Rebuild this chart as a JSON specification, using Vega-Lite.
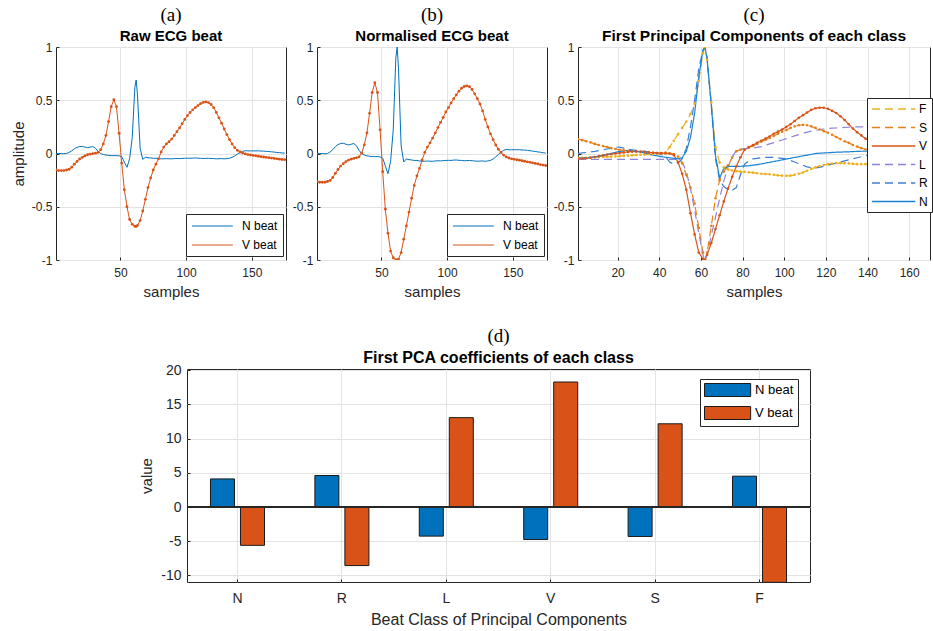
{
  "$schema": "https://vega.github.io/schema/vega-lite/v6.json",
  "background": "white",
  "padding": {"left": 10, "top": 5, "right": 2, "bottom": 3},
  "config": {
    "font": "Liberation Sans",
    "view": {"stroke": "#262626", "strokeWidth": 1},
    "axis": {"grid": true, "gridColor": "#e3e3e3", "domain": false, "ticks": true, "tickSize": -3, "tickColor": "#262626", "labelColor": "#262626", "titleColor": "#262626", "labelFont": "Liberation Sans", "titleFont": "Liberation Sans", "titleFontWeight": "normal", "labelFontSize": 12, "titleFontSize": 15},
    "axisY": {"labelExpr": "datum.value < 0 ? '-' + format(-datum.value, '~g') : format(datum.value, '~g')"},
    "legend": {"labelFont": "Liberation Sans", "labelColor": "#000000", "strokeColor": "#262626", "fillColor": "#ffffff", "cornerRadius": 0, "labelFontSize": 12},
    "title": {"font": "Liberation Serif", "fontSize": 19, "fontWeight": "normal", "color": "#000000", "subtitleFont": "Liberation Sans", "subtitleFontSize": 15, "subtitleFontWeight": "bold", "subtitleColor": "#000000", "subtitlePadding": 4, "offset": -3, "anchor": "middle"}
  },
  "datasets": {
    "a": [
      {"s":1,"N":0,"V":-0.155},{"s":3,"N":0,"V":-0.16},{"s":5,"N":0,"V":-0.16},{"s":7,"N":-0.002,"V":-0.16},{"s":9,"N":0,"V":-0.155},
      {"s":11,"N":0.01,"V":-0.148},{"s":13,"N":0.025,"V":-0.128},{"s":15,"N":0.045,"V":-0.1},{"s":17,"N":0.058,"V":-0.075},{"s":19,"N":0.065,"V":-0.052},
      {"s":21,"N":0.066,"V":-0.036},{"s":23,"N":0.06,"V":-0.022},{"s":25,"N":0.055,"V":-0.012},{"s":27,"N":0.06,"V":-0.006},{"s":29,"N":0.065,"V":-0.001},
      {"s":31,"N":0.05,"V":0.003},{"s":33,"N":0.02,"V":0.01},{"s":35,"N":0,"V":0.035},{"s":37,"N":-0.01,"V":0.09},{"s":39,"N":-0.015,"V":0.17},
      {"s":41,"N":-0.018,"V":0.3},{"s":43,"N":-0.02,"V":0.44},{"s":45,"N":-0.02,"V":0.505},{"s":47,"N":-0.02,"V":0.44},{"s":49,"N":-0.022,"V":0.19},
      {"s":51,"N":-0.03,"V":-0.09},{"s":53,"N":-0.08,"V":-0.34},{"s":55,"N":-0.13,"V":-0.5},{"s":57,"N":-0.05,"V":-0.62},{"s":59,"N":0.15,"V":-0.665},
      {"s":61,"N":0.62,"V":-0.683},{"s":62,"N":0.69,"V":-0.685},{"s":63,"N":0.55,"V":-0.675},{"s":65,"N":0.05,"V":-0.63},{"s":67,"N":-0.055,"V":-0.54},
      {"s":69,"N":-0.035,"V":-0.43},{"s":71,"N":-0.04,"V":-0.32},{"s":73,"N":-0.042,"V":-0.23},{"s":75,"N":-0.045,"V":-0.155},{"s":77,"N":-0.045,"V":-0.1},
      {"s":79,"N":-0.048,"V":-0.05},{"s":81,"N":-0.05,"V":0.015},{"s":83,"N":-0.05,"V":0.06},{"s":85,"N":-0.048,"V":0.09},{"s":87,"N":-0.05,"V":0.11},
      {"s":89,"N":-0.05,"V":0.135},{"s":91,"N":-0.048,"V":0.17},{"s":93,"N":-0.047,"V":0.205},{"s":95,"N":-0.048,"V":0.24},{"s":97,"N":-0.046,"V":0.28},
      {"s":99,"N":-0.045,"V":0.32},{"s":101,"N":-0.044,"V":0.355},{"s":103,"N":-0.045,"V":0.385},{"s":105,"N":-0.043,"V":0.41},{"s":107,"N":-0.042,"V":0.43},
      {"s":109,"N":-0.044,"V":0.45},{"s":111,"N":-0.045,"V":0.468},{"s":113,"N":-0.047,"V":0.48},{"s":115,"N":-0.046,"V":0.484},{"s":117,"N":-0.045,"V":0.478},
      {"s":119,"N":-0.047,"V":0.46},{"s":121,"N":-0.048,"V":0.43},{"s":123,"N":-0.05,"V":0.385},{"s":125,"N":-0.049,"V":0.335},{"s":127,"N":-0.048,"V":0.285},
      {"s":129,"N":-0.05,"V":0.23},{"s":131,"N":-0.048,"V":0.178},{"s":133,"N":-0.045,"V":0.13},{"s":135,"N":-0.036,"V":0.09},{"s":137,"N":-0.022,"V":0.055},
      {"s":139,"N":-0.006,"V":0.03},{"s":141,"N":0.01,"V":0.014},{"s":143,"N":0.02,"V":0.004},{"s":145,"N":0.026,"V":-0.004},{"s":147,"N":0.025,"V":-0.01},
      {"s":149,"N":0.024,"V":-0.014},{"s":151,"N":0.025,"V":-0.018},{"s":153,"N":0.024,"V":-0.022},{"s":155,"N":0.025,"V":-0.026},{"s":157,"N":0.023,"V":-0.03},
      {"s":159,"N":0.022,"V":-0.033},{"s":161,"N":0.02,"V":-0.037},{"s":163,"N":0.018,"V":-0.04},{"s":165,"N":0.016,"V":-0.043},{"s":167,"N":0.013,"V":-0.046},
      {"s":169,"N":0.01,"V":-0.05},{"s":171,"N":0.008,"V":-0.053},{"s":173,"N":0.005,"V":-0.056},{"s":175,"N":0.003,"V":-0.058}
    ],
    "b": [
      {"s":1,"N":0,"V":-0.263},{"s":3,"N":0,"V":-0.27},{"s":5,"N":0,"V":-0.27},{"s":7,"N":-0.003,"V":-0.27},{"s":9,"N":0,"V":-0.263},
      {"s":11,"N":0.015,"V":-0.253},{"s":13,"N":0.036,"V":-0.225},{"s":15,"N":0.065,"V":-0.186},{"s":17,"N":0.084,"V":-0.15},{"s":19,"N":0.094,"V":-0.118},
      {"s":21,"N":0.096,"V":-0.096},{"s":23,"N":0.087,"V":-0.076},{"s":25,"N":0.08,"V":-0.062},{"s":27,"N":0.087,"V":-0.053},{"s":29,"N":0.094,"V":-0.046},
      {"s":31,"N":0.073,"V":-0.041},{"s":33,"N":0.029,"V":-0.031},{"s":35,"N":0,"V":0.004},{"s":37,"N":-0.015,"V":0.081},{"s":39,"N":-0.022,"V":0.194},
      {"s":41,"N":-0.026,"V":0.377},{"s":43,"N":-0.029,"V":0.573},{"s":45,"N":-0.029,"V":0.665},{"s":47,"N":-0.029,"V":0.573},{"s":49,"N":-0.032,"V":0.222},
      {"s":51,"N":-0.044,"V":-0.171},{"s":53,"N":-0.116,"V":-0.523},{"s":55,"N":-0.19,"V":-0.748},{"s":57,"N":-0.073,"V":-0.916},{"s":59,"N":0.22,"V":-0.979},
      {"s":61,"N":0.9,"V":-0.998},{"s":62,"N":1.0,"V":-1.0},{"s":63,"N":0.8,"V":-0.993},{"s":65,"N":0.073,"V":-0.93},{"s":67,"N":-0.08,"V":-0.804},
      {"s":69,"N":-0.051,"V":-0.68},{"s":71,"N":-0.058,"V":-0.55},{"s":73,"N":-0.061,"V":-0.42},{"s":75,"N":-0.065,"V":-0.3},{"s":77,"N":-0.065,"V":-0.21},
      {"s":79,"N":-0.07,"V":-0.14},{"s":81,"N":-0.073,"V":-0.06},{"s":83,"N":-0.073,"V":0.01},{"s":85,"N":-0.07,"V":0.06},{"s":87,"N":-0.073,"V":0.1},
      {"s":89,"N":-0.073,"V":0.145},{"s":91,"N":-0.07,"V":0.194},{"s":93,"N":-0.068,"V":0.243},{"s":95,"N":-0.07,"V":0.292},{"s":97,"N":-0.067,"V":0.34},
      {"s":99,"N":-0.065,"V":0.39},{"s":101,"N":-0.064,"V":0.43},{"s":103,"N":-0.065,"V":0.475},{"s":105,"N":-0.062,"V":0.515},{"s":107,"N":-0.061,"V":0.55},
      {"s":109,"N":-0.064,"V":0.585},{"s":111,"N":-0.065,"V":0.613},{"s":113,"N":-0.068,"V":0.629},{"s":115,"N":-0.067,"V":0.635},{"s":117,"N":-0.065,"V":0.627},
      {"s":119,"N":-0.068,"V":0.601},{"s":121,"N":-0.07,"V":0.56},{"s":123,"N":-0.073,"V":0.515},{"s":125,"N":-0.071,"V":0.465},{"s":127,"N":-0.07,"V":0.4},
      {"s":129,"N":-0.073,"V":0.32},{"s":131,"N":-0.07,"V":0.25},{"s":133,"N":-0.065,"V":0.185},{"s":135,"N":-0.052,"V":0.13},{"s":137,"N":-0.032,"V":0.08},
      {"s":139,"N":-0.009,"V":0.04},{"s":141,"N":0.015,"V":0.01},{"s":143,"N":0.029,"V":-0.015},{"s":145,"N":0.038,"V":-0.032},{"s":147,"N":0.036,"V":-0.042},
      {"s":149,"N":0.035,"V":-0.05},{"s":151,"N":0.036,"V":-0.055},{"s":153,"N":0.035,"V":-0.059},{"s":155,"N":0.036,"V":-0.063},{"s":157,"N":0.033,"V":-0.068},
      {"s":159,"N":0.032,"V":-0.073},{"s":161,"N":0.029,"V":-0.078},{"s":163,"N":0.026,"V":-0.083},{"s":165,"N":0.023,"V":-0.088},{"s":167,"N":0.019,"V":-0.093},
      {"s":169,"N":0.015,"V":-0.098},{"s":171,"N":0.012,"V":-0.104},{"s":173,"N":0.007,"V":-0.109},{"s":175,"N":0.004,"V":-0.113}
    ],
    "c": [
      {"s":1,"F":-0.04,"S":0.135,"V":-0.05,"L":-0.055,"R":0,"N":-0.04},
      {"s":3,"F":-0.04,"S":0.125,"V":-0.048,"L":-0.055,"R":0.005,"N":-0.04},
      {"s":5,"F":-0.04,"S":0.115,"V":-0.045,"L":-0.055,"R":0.01,"N":-0.04},
      {"s":7,"F":-0.037,"S":0.105,"V":-0.04,"L":-0.055,"R":0.015,"N":-0.036},
      {"s":9,"F":-0.035,"S":0.09,"V":-0.033,"L":-0.055,"R":0.02,"N":-0.032},
      {"s":11,"F":-0.034,"S":0.08,"V":-0.025,"L":-0.055,"R":0.027,"N":-0.026},
      {"s":13,"F":-0.033,"S":0.07,"V":-0.018,"L":-0.055,"R":0.035,"N":-0.02},
      {"s":15,"F":-0.031,"S":0.06,"V":-0.01,"L":-0.055,"R":0.042,"N":-0.01},
      {"s":17,"F":-0.03,"S":0.05,"V":-0.005,"L":-0.055,"R":0.05,"N":0},
      {"s":19,"F":-0.027,"S":0.042,"V":0,"L":-0.055,"R":0.058,"N":0.01},
      {"s":21,"F":-0.025,"S":0.035,"V":0.005,"L":-0.055,"R":0.06,"N":0.02},
      {"s":23,"F":-0.022,"S":0.03,"V":0.01,"L":-0.055,"R":0.05,"N":0.025},
      {"s":25,"F":-0.02,"S":0.025,"V":0.015,"L":-0.055,"R":0.04,"N":0.028},
      {"s":27,"F":-0.017,"S":0.02,"V":0.018,"L":-0.055,"R":0.035,"N":0.025},
      {"s":29,"F":-0.015,"S":0.017,"V":0.02,"L":-0.055,"R":0.03,"N":0.02},
      {"s":31,"F":-0.012,"S":0.014,"V":0.018,"L":-0.055,"R":0.025,"N":0.012},
      {"s":33,"F":-0.01,"S":0.01,"V":0.015,"L":-0.055,"R":0.02,"N":0.005},
      {"s":35,"F":-0.007,"S":0.008,"V":0.01,"L":-0.055,"R":0.015,"N":-0.005},
      {"s":37,"F":-0.005,"S":0.006,"V":0.007,"L":-0.055,"R":0.01,"N":-0.015},
      {"s":39,"F":-0.002,"S":0.004,"V":0.005,"L":-0.055,"R":0.005,"N":-0.022},
      {"s":41,"F":0,"S":0.002,"V":0.003,"L":-0.055,"R":-0.01,"N":-0.03},
      {"s":43,"F":0.01,"S":0.001,"V":0.002,"L":-0.055,"R":-0.03,"N":-0.035},
      {"s":45,"F":0.06,"S":0,"V":0,"L":-0.055,"R":-0.08,"N":-0.04},
      {"s":47,"F":0.12,"S":-0.005,"V":-0.015,"L":-0.055,"R":-0.1,"N":-0.045},
      {"s":49,"F":0.18,"S":-0.03,"V":-0.08,"L":-0.056,"R":-0.09,"N":-0.05},
      {"s":51,"F":0.24,"S":-0.09,"V":-0.19,"L":-0.08,"R":-0.05,"N":-0.04},
      {"s":53,"F":0.3,"S":-0.2,"V":-0.34,"L":-0.17,"R":0.05,"N":0.02},
      {"s":55,"F":0.37,"S":-0.32,"V":-0.56,"L":-0.33,"R":0.25,"N":0.15},
      {"s":57,"F":0.47,"S":-0.47,"V":-0.76,"L":-0.53,"R":0.5,"N":0.38},
      {"s":59,"F":0.68,"S":-0.7,"V":-0.93,"L":-0.75,"R":0.8,"N":0.72},
      {"s":61,"F":0.94,"S":-0.93,"V":-0.99,"L":-0.95,"R":0.97,"N":0.97},
      {"s":62,"F":1.0,"S":-1.0,"V":-1.0,"L":-1.0,"R":1.0,"N":1.0},
      {"s":63,"F":0.88,"S":-0.93,"V":-0.95,"L":-0.95,"R":0.9,"N":0.88},
      {"s":65,"F":0.48,"S":-0.68,"V":-0.84,"L":-0.77,"R":0.45,"N":0.45},
      {"s":67,"F":0.06,"S":-0.42,"V":-0.71,"L":-0.6,"R":-0.05,"N":-0.02},
      {"s":69,"F":-0.085,"S":-0.25,"V":-0.58,"L":-0.42,"R":-0.25,"N":-0.23},
      {"s":71,"F":-0.13,"S":-0.17,"V":-0.45,"L":-0.26,"R":-0.31,"N":-0.14},
      {"s":73,"F":-0.15,"S":-0.11,"V":-0.33,"L":-0.13,"R":-0.34,"N":-0.12},
      {"s":75,"F":-0.16,"S":-0.04,"V":-0.22,"L":-0.03,"R":-0.345,"N":-0.12},
      {"s":77,"F":-0.165,"S":0.02,"V":-0.12,"L":0.025,"R":-0.32,"N":-0.12},
      {"s":79,"F":-0.17,"S":0.035,"V":-0.035,"L":0.04,"R":-0.2,"N":-0.12},
      {"s":81,"F":-0.173,"S":0.04,"V":0.035,"L":0.045,"R":-0.1,"N":-0.118},
      {"s":83,"F":-0.176,"S":0.055,"V":0.06,"L":0.047,"R":-0.07,"N":-0.115},
      {"s":85,"F":-0.18,"S":0.07,"V":0.08,"L":0.05,"R":-0.05,"N":-0.11},
      {"s":87,"F":-0.185,"S":0.09,"V":0.1,"L":0.057,"R":-0.045,"N":-0.105},
      {"s":89,"F":-0.19,"S":0.11,"V":0.12,"L":0.065,"R":-0.04,"N":-0.098},
      {"s":91,"F":-0.192,"S":0.13,"V":0.14,"L":0.077,"R":-0.037,"N":-0.09},
      {"s":93,"F":-0.195,"S":0.145,"V":0.16,"L":0.09,"R":-0.035,"N":-0.083},
      {"s":95,"F":-0.2,"S":0.165,"V":0.185,"L":0.102,"R":-0.037,"N":-0.075},
      {"s":97,"F":-0.205,"S":0.185,"V":0.205,"L":0.115,"R":-0.04,"N":-0.068},
      {"s":99,"F":-0.208,"S":0.205,"V":0.225,"L":0.127,"R":-0.045,"N":-0.06},
      {"s":101,"F":-0.21,"S":0.22,"V":0.25,"L":0.14,"R":-0.05,"N":-0.052},
      {"s":103,"F":-0.208,"S":0.24,"V":0.275,"L":0.152,"R":-0.065,"N":-0.045},
      {"s":105,"F":-0.2,"S":0.255,"V":0.305,"L":0.165,"R":-0.08,"N":-0.037},
      {"s":107,"F":-0.19,"S":0.265,"V":0.335,"L":0.177,"R":-0.095,"N":-0.03},
      {"s":109,"F":-0.178,"S":0.27,"V":0.36,"L":0.19,"R":-0.11,"N":-0.022},
      {"s":111,"F":-0.162,"S":0.265,"V":0.385,"L":0.2,"R":-0.125,"N":-0.015},
      {"s":113,"F":-0.145,"S":0.255,"V":0.41,"L":0.21,"R":-0.135,"N":-0.008},
      {"s":115,"F":-0.13,"S":0.24,"V":0.425,"L":0.218,"R":-0.135,"N":0},
      {"s":117,"F":-0.118,"S":0.225,"V":0.43,"L":0.225,"R":-0.13,"N":0.003},
      {"s":119,"F":-0.108,"S":0.21,"V":0.43,"L":0.23,"R":-0.12,"N":0.005},
      {"s":121,"F":-0.1,"S":0.195,"V":0.42,"L":0.235,"R":-0.11,"N":0.007},
      {"s":123,"F":-0.095,"S":0.175,"V":0.4,"L":0.238,"R":-0.1,"N":0.01},
      {"s":125,"F":-0.09,"S":0.155,"V":0.38,"L":0.24,"R":-0.09,"N":0.012},
      {"s":127,"F":-0.09,"S":0.135,"V":0.35,"L":0.243,"R":-0.08,"N":0.013},
      {"s":129,"F":-0.09,"S":0.115,"V":0.315,"L":0.245,"R":-0.07,"N":0.015},
      {"s":131,"F":-0.093,"S":0.1,"V":0.275,"L":0.247,"R":-0.06,"N":0.016},
      {"s":133,"F":-0.097,"S":0.08,"V":0.235,"L":0.25,"R":-0.05,"N":0.018},
      {"s":135,"F":-0.1,"S":0.065,"V":0.2,"L":0.25,"R":-0.04,"N":0.02},
      {"s":137,"F":-0.1,"S":0.05,"V":0.17,"L":0.25,"R":-0.03,"N":0.021},
      {"s":139,"F":-0.1,"S":0.04,"V":0.14,"L":0.25,"R":-0.02,"N":0.022},
      {"s":141,"F":-0.1,"S":0.035,"V":0.115,"L":0.25,"R":-0.01,"N":0.023},
      {"s":143,"F":-0.1,"S":0.03,"V":0.095,"L":0.25,"R":0,"N":0.025},
      {"s":145,"F":-0.1,"S":0.028,"V":0.08,"L":0.25,"R":0,"N":0.025},
      {"s":147,"F":-0.1,"S":0.026,"V":0.07,"L":0.25,"R":0,"N":0.025}
    ],
    "d": [
      {"cls":"N","beat":"N beat","value":4.1},{"cls":"N","beat":"V beat","value":-5.6},
      {"cls":"R","beat":"N beat","value":4.6},{"cls":"R","beat":"V beat","value":-8.55},
      {"cls":"L","beat":"N beat","value":-4.25},{"cls":"L","beat":"V beat","value":13.05},
      {"cls":"V","beat":"N beat","value":-4.75},{"cls":"V","beat":"V beat","value":18.25},
      {"cls":"S","beat":"N beat","value":-4.3},{"cls":"S","beat":"V beat","value":12.15},
      {"cls":"F","beat":"N beat","value":4.5},{"cls":"F","beat":"V beat","value":-11}
    ]
  },
  "spacing": 26,
  "resolve": {"scale": {"color": "independent", "strokeDash": "independent"}, "legend": {"color": "independent", "strokeDash": "independent"}},
  "vconcat": [
    {
      "bounds": "flush",
      "spacing": 31,
      "resolve": {"scale": {"color": "independent", "strokeDash": "independent"}, "legend": {"color": "independent", "strokeDash": "independent"}},
      "hconcat": [
        {
          "width": 230, "height": 213,
          "data": {"name": "a"},
          "transform": [{"fold": ["N", "V"], "as": ["k", "v"]}],
          "title": {"text": "(a)", "subtitle": "Raw ECG beat"},
          "layer": [
            {
              "mark": {"type": "line", "strokeWidth": 1, "clip": true},
              "encoding": {
                "x": {"field": "s", "type": "quantitative", "scale": {"domain": [1, 176], "nice": false, "zero": false}, "axis": {"values": [50, 100, 150], "title": "samples", "labelPadding": 10, "titlePadding": 6}},
                "y": {"field": "v", "type": "quantitative", "scale": {"domain": [-1, 1], "nice": false}, "axis": {"values": [-1, -0.5, 0, 0.5, 1], "title": "amplitude", "labelPadding": 7, "titlePadding": 5}},
                "color": {"field": "k", "type": "nominal", "scale": {"domain": ["N", "V"], "range": ["#0072BD", "#D95319"]},
                  "legend": {"orient": "none", "legendX": 130, "legendY": 167, "title": null, "labelExpr": "datum.label + ' beat'", "symbolType": "M-1,0H5.8", "symbolSize": 144, "symbolStrokeWidth": 1.2, "labelOffset": 37, "rowPadding": 6, "padding": 5}}
              }
            },
            {
              "transform": [{"filter": "datum.k == 'V'"}],
              "mark": {"type": "point", "filled": true, "size": 8, "color": "#D95319", "opacity": 1, "clip": true},
              "encoding": {"x": {"field": "s", "type": "quantitative"}, "y": {"field": "v", "type": "quantitative"}}
            }
          ]
        },
        {
          "width": 230, "height": 213,
          "data": {"name": "b"},
          "transform": [{"fold": ["N", "V"], "as": ["k", "v"]}],
          "title": {"text": "(b)", "subtitle": "Normalised ECG beat"},
          "layer": [
            {
              "mark": {"type": "line", "strokeWidth": 1, "clip": true},
              "encoding": {
                "x": {"field": "s", "type": "quantitative", "scale": {"domain": [1, 176], "nice": false, "zero": false}, "axis": {"values": [50, 100, 150], "title": "samples", "labelPadding": 10, "titlePadding": 6}},
                "y": {"field": "v", "type": "quantitative", "scale": {"domain": [-1, 1], "nice": false}, "axis": {"values": [-1, -0.5, 0, 0.5, 1], "title": null, "labelPadding": 7}},
                "color": {"field": "k", "type": "nominal", "scale": {"domain": ["N", "V"], "range": ["#0072BD", "#D95319"]},
                  "legend": {"orient": "none", "legendX": 130, "legendY": 167, "title": null, "labelExpr": "datum.label + ' beat'", "symbolType": "M-1,0H5.8", "symbolSize": 144, "symbolStrokeWidth": 1.2, "labelOffset": 37, "rowPadding": 6, "padding": 5}}
              }
            },
            {
              "transform": [{"filter": "datum.k == 'V'"}],
              "mark": {"type": "point", "filled": true, "size": 8, "color": "#D95319", "opacity": 1, "clip": true},
              "encoding": {"x": {"field": "s", "type": "quantitative"}, "y": {"field": "v", "type": "quantitative"}}
            }
          ]
        },
        {
          "width": 352, "height": 213,
          "data": {"name": "c"},
          "transform": [{"fold": ["F", "S", "V", "L", "R", "N"], "as": ["k", "v"]}],
          "title": {"text": "(c)", "subtitle": "First Principal Components of each class", "subtitleFontSize": 15.5},
          "layer": [
            {
              "mark": {"type": "line", "strokeWidth": 1.2, "clip": true},
              "encoding": {
                "x": {"field": "s", "type": "quantitative", "scale": {"domain": [1, 170], "nice": false, "zero": false}, "axis": {"values": [20, 40, 60, 80, 100, 120, 140, 160], "title": "samples", "labelPadding": 10, "titlePadding": 6}},
                "y": {"field": "v", "type": "quantitative", "scale": {"domain": [-1, 1], "nice": false}, "axis": {"values": [-1, -0.5, 0, 0.5, 1], "title": null, "labelPadding": 7}},
                "color": {"field": "k", "type": "nominal", "scale": {"domain": ["F", "S", "V", "L", "R", "N"], "range": ["#EDB120", "#E8801C", "#D95319", "#8C84DA", "#3F7FD3", "#1A82D0"]},
                  "legend": {"orient": "none", "legendX": 289, "legendY": 51, "title": null, "symbolType": "M-1,0H6.2", "symbolSize": 144, "symbolStrokeWidth": 1.3, "labelOffset": 34, "rowPadding": 5.5, "padding": 4}},
                "strokeDash": {"field": "k", "type": "nominal", "scale": {"domain": ["F", "S", "V", "L", "R", "N"], "range": [[8, 5], [8, 5], [1, 0], [8, 5], [8, 5], [1, 0]]},
                  "legend": {"orient": "none", "legendX": 289, "legendY": 51, "title": null, "symbolType": "M-1,0H6.2", "symbolSize": 144, "symbolStrokeWidth": 1.3, "labelOffset": 34, "rowPadding": 5.5, "padding": 4}}
              }
            },
            {
              "transform": [{"filter": "datum.k == 'F' || datum.k == 'S' || datum.k == 'V'"}],
              "mark": {"type": "point", "filled": true, "size": 7, "opacity": 1, "clip": true},
              "encoding": {
                "x": {"field": "s", "type": "quantitative"},
                "y": {"field": "v", "type": "quantitative"},
                "color": {"field": "k", "type": "nominal", "legend": null}
              }
            }
          ]
        }
      ]
    },
    {
      "bounds": "flush",
      "spacing": 0,
      "resolve": {"scale": {"color": "independent"}, "legend": {"color": "independent"}},
      "hconcat": [
        {
          "width": 131, "height": 213,
          "data": {"values": [{}]},
          "mark": {"type": "point", "opacity": 0},
          "view": {"stroke": null}
        },
        {
          "width": 623, "height": 213,
          "data": {"name": "d"},
          "title": {"text": "(d)", "subtitle": "First PCA coefficients of each class", "subtitleFontSize": 16},
          "layer": [
            {
              "mark": {"type": "bar", "stroke": "#1a1a1a", "strokeWidth": 1, "clip": true},
              "encoding": {
                "x": {"field": "cls", "type": "nominal", "sort": ["N", "R", "L", "V", "S", "F"], "scale": {"paddingInner": 0.425, "paddingOuter": 0.196},
                  "axis": {"title": "Beat Class of Principal Components", "labelAngle": 0, "bandPosition": 0.5, "grid": true, "labelFontSize": 14, "titleFontSize": 16, "labelPadding": 12, "titlePadding": 6}},
                "xOffset": {"field": "beat", "type": "nominal", "sort": ["N beat", "V beat"], "scale": {"paddingInner": 0.2, "paddingOuter": 0.1}},
                "y": {"field": "value", "type": "quantitative", "scale": {"domain": [-10.95, 20.15], "nice": false},
                  "axis": {"values": [-10, -5, 0, 5, 10, 15, 20], "title": "value", "labelFontSize": 14, "titleFontSize": 15, "labelPadding": 9, "titlePadding": 6}},
                "y2": {"datum": 0},
                "color": {"field": "beat", "type": "nominal", "scale": {"domain": ["N beat", "V beat"], "range": ["#0072BD", "#D95319"]},
                  "legend": {"orient": "none", "legendX": 513, "legendY": 10, "title": null, "symbolType": "M-1,-1H6.1V1H-1Z", "symbolSize": 169, "symbolStrokeColor": "#1a1a1a", "symbolStrokeWidth": 1, "labelOffset": 37, "rowPadding": 5, "padding": 4, "labelFontSize": 13}}
              }
            },
            {
              "mark": {"type": "rule", "color": "#262626", "strokeWidth": 1},
              "encoding": {"y": {"datum": 0, "type": "quantitative", "scale": {"domain": [-10.95, 20.15], "nice": false},
                "axis": {"values": [-10, -5, 0, 5, 10, 15, 20], "title": "value", "labelFontSize": 14, "titleFontSize": 15, "labelPadding": 9, "titlePadding": 6}}}
            }
          ]
        }
      ]
    }
  ]
}
